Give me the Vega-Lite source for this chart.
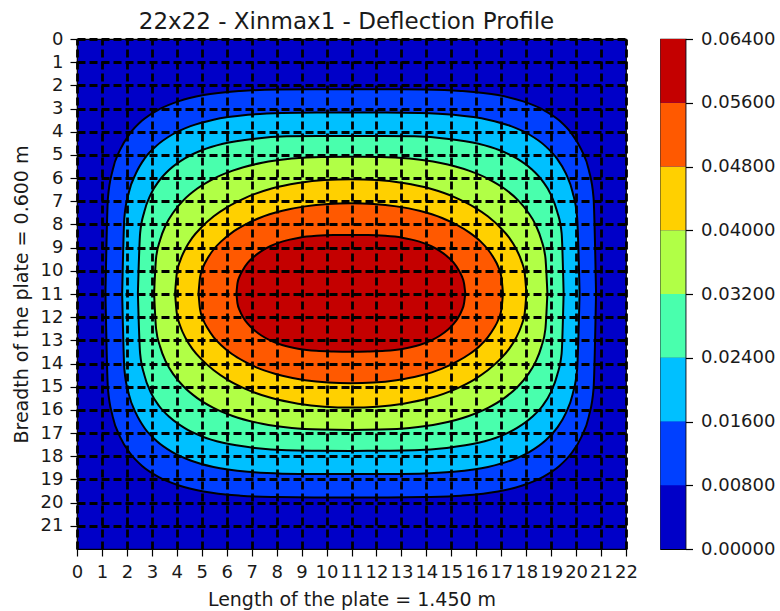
{
  "$schema": "https://vega.github.io/schema/vega-lite/v6.json",
  "padding": {"left": 11, "top": 10, "right": 2, "bottom": 0},
  "background": "white",
  "config": {
    "font": "DejaVu Sans",
    "view": {"stroke": "black", "strokeWidth": 1.2, "fill": "#0000c8"},
    "axis": {"labelFont": "DejaVu Sans", "titleFont": "DejaVu Sans", "labelFontSize": 18, "titleFontSize": 19, "titleFontWeight": "normal", "labelColor": "#1a1a1a", "titleColor": "#1a1a1a", "tickColor": "black", "tickSize": 7, "tickWidth": 1.2, "labelPadding": 7, "domain": false, "labelOverlap": false, "labelFlush": false, "labelBound": false},
    "concat": {"spacing": 20.5}
  },
  "datasets": {
    "bar": [
      {"lo": 0, "hi": 0.008}, {"lo": 0.008, "hi": 0.016}, {"lo": 0.016, "hi": 0.024}, {"lo": 0.024, "hi": 0.032},
      {"lo": 0.032, "hi": 0.040}, {"lo": 0.040, "hi": 0.048}, {"lo": 0.048, "hi": 0.056}, {"lo": 0.056, "hi": 0.064}
    ],
    "contours": [
      {"lo":0.008,"x":1.14,"y":10.97,"y2":10.97},{"lo":0.008,"x":1.24,"y":6.85,"y2":15.09},{"lo":0.008,"x":1.43,"y":5.65,"y2":16.29},{"lo":0.008,"x":1.73,"y":4.77,"y2":17.17},{"lo":0.008,"x":2.12,"y":4.08,"y2":17.86},{"lo":0.008,"x":2.61,"y":3.52,"y2":18.42},{"lo":0.008,"x":3.30,"y":3.03,"y2":18.91},{"lo":0.008,"x":4.09,"y":2.68,"y2":19.26},{"lo":0.008,"x":5.07,"y":2.42,"y2":19.52},{"lo":0.008,"x":6.55,"y":2.24,"y2":19.70},{"lo":0.008,"x":8.02,"y":2.18,"y2":19.76},{"lo":0.008,"x":9.50,"y":2.17,"y2":19.78},{"lo":0.008,"x":10.97,"y":2.17,"y2":19.78},{"lo":0.008,"x":12.45,"y":2.17,"y2":19.78},{"lo":0.008,"x":13.92,"y":2.18,"y2":19.76},{"lo":0.008,"x":15.39,"y":2.24,"y2":19.70},{"lo":0.008,"x":16.87,"y":2.42,"y2":19.52},{"lo":0.008,"x":17.85,"y":2.68,"y2":19.26},{"lo":0.008,"x":18.64,"y":3.03,"y2":18.91},{"lo":0.008,"x":19.33,"y":3.52,"y2":18.42},{"lo":0.008,"x":19.82,"y":4.08,"y2":17.86},{"lo":0.008,"x":20.21,"y":4.77,"y2":17.17},{"lo":0.008,"x":20.51,"y":5.65,"y2":16.29},{"lo":0.008,"x":20.70,"y":6.85,"y2":15.09},{"lo":0.008,"x":20.80,"y":10.97,"y2":10.97},
      {"lo":0.016,"x":1.81,"y":10.97,"y2":10.97},{"lo":0.016,"x":1.90,"y":7.68,"y2":14.26},{"lo":0.016,"x":2.08,"y":6.61,"y2":15.33},{"lo":0.016,"x":2.36,"y":5.80,"y2":16.14},{"lo":0.016,"x":2.72,"y":5.14,"y2":16.80},{"lo":0.016,"x":3.18,"y":4.61,"y2":17.33},{"lo":0.016,"x":3.82,"y":4.12,"y2":17.82},{"lo":0.016,"x":4.55,"y":3.76,"y2":18.18},{"lo":0.016,"x":5.47,"y":3.48,"y2":18.46},{"lo":0.016,"x":6.85,"y":3.27,"y2":18.67},{"lo":0.016,"x":8.22,"y":3.19,"y2":18.75},{"lo":0.016,"x":9.60,"y":3.17,"y2":18.77},{"lo":0.016,"x":10.97,"y":3.17,"y2":18.77},{"lo":0.016,"x":12.35,"y":3.17,"y2":18.77},{"lo":0.016,"x":13.72,"y":3.19,"y2":18.75},{"lo":0.016,"x":15.09,"y":3.27,"y2":18.67},{"lo":0.016,"x":16.47,"y":3.48,"y2":18.46},{"lo":0.016,"x":17.39,"y":3.76,"y2":18.18},{"lo":0.016,"x":18.12,"y":4.12,"y2":17.82},{"lo":0.016,"x":18.76,"y":4.61,"y2":17.33},{"lo":0.016,"x":19.22,"y":5.14,"y2":16.80},{"lo":0.016,"x":19.59,"y":5.80,"y2":16.14},{"lo":0.016,"x":19.86,"y":6.61,"y2":15.33},{"lo":0.016,"x":20.04,"y":7.68,"y2":14.26},{"lo":0.016,"x":20.14,"y":10.97,"y2":10.97},
      {"lo":0.024,"x":2.44,"y":10.97,"y2":10.97},{"lo":0.024,"x":2.53,"y":8.37,"y2":13.57},{"lo":0.024,"x":2.70,"y":7.44,"y2":14.50},{"lo":0.024,"x":2.95,"y":6.71,"y2":15.23},{"lo":0.024,"x":3.29,"y":6.12,"y2":15.83},{"lo":0.024,"x":3.72,"y":5.62,"y2":16.32},{"lo":0.024,"x":4.32,"y":5.15,"y2":16.79},{"lo":0.024,"x":5.00,"y":4.80,"y2":17.14},{"lo":0.024,"x":5.85,"y":4.52,"y2":17.42},{"lo":0.024,"x":7.13,"y":4.30,"y2":17.64},{"lo":0.024,"x":8.41,"y":4.20,"y2":17.74},{"lo":0.024,"x":9.69,"y":4.18,"y2":17.76},{"lo":0.024,"x":10.97,"y":4.18,"y2":17.77},{"lo":0.024,"x":12.25,"y":4.18,"y2":17.76},{"lo":0.024,"x":13.53,"y":4.20,"y2":17.74},{"lo":0.024,"x":14.81,"y":4.30,"y2":17.64},{"lo":0.024,"x":16.09,"y":4.52,"y2":17.42},{"lo":0.024,"x":16.94,"y":4.80,"y2":17.14},{"lo":0.024,"x":17.62,"y":5.15,"y2":16.79},{"lo":0.024,"x":18.22,"y":5.62,"y2":16.32},{"lo":0.024,"x":18.65,"y":6.12,"y2":15.83},{"lo":0.024,"x":18.99,"y":6.71,"y2":15.23},{"lo":0.024,"x":19.24,"y":7.44,"y2":14.50},{"lo":0.024,"x":19.42,"y":8.37,"y2":13.57},{"lo":0.024,"x":19.50,"y":10.97,"y2":10.97},
      {"lo":0.032,"x":3.09,"y":10.97,"y2":10.97},{"lo":0.032,"x":3.17,"y":9.43,"y2":12.51},{"lo":0.032,"x":3.33,"y":8.67,"y2":13.27},{"lo":0.032,"x":3.56,"y":8.02,"y2":13.92},{"lo":0.032,"x":3.88,"y":7.45,"y2":14.49},{"lo":0.032,"x":4.27,"y":6.95,"y2":14.99},{"lo":0.032,"x":4.82,"y":6.45,"y2":15.49},{"lo":0.032,"x":5.45,"y":6.04,"y2":15.90},{"lo":0.032,"x":6.24,"y":5.68,"y2":16.26},{"lo":0.032,"x":7.42,"y":5.34,"y2":16.60},{"lo":0.032,"x":8.61,"y":5.16,"y2":16.78},{"lo":0.032,"x":9.79,"y":5.09,"y2":16.85},{"lo":0.032,"x":10.97,"y":5.08,"y2":16.87},{"lo":0.032,"x":12.15,"y":5.09,"y2":16.85},{"lo":0.032,"x":13.33,"y":5.16,"y2":16.78},{"lo":0.032,"x":14.52,"y":5.34,"y2":16.60},{"lo":0.032,"x":15.70,"y":5.68,"y2":16.26},{"lo":0.032,"x":16.49,"y":6.04,"y2":15.90},{"lo":0.032,"x":17.12,"y":6.45,"y2":15.49},{"lo":0.032,"x":17.67,"y":6.95,"y2":14.99},{"lo":0.032,"x":18.06,"y":7.45,"y2":14.49},{"lo":0.032,"x":18.38,"y":8.02,"y2":13.92},{"lo":0.032,"x":18.61,"y":8.67,"y2":13.27},{"lo":0.032,"x":18.77,"y":9.43,"y2":12.51},{"lo":0.032,"x":18.85,"y":10.97,"y2":10.97},
      {"lo":0.040,"x":3.93,"y":10.97,"y2":10.97},{"lo":0.040,"x":4.00,"y":10.10,"y2":11.84},{"lo":0.040,"x":4.14,"y":9.55,"y2":12.39},{"lo":0.040,"x":4.35,"y":9.04,"y2":12.90},{"lo":0.040,"x":4.63,"y":8.56,"y2":13.38},{"lo":0.040,"x":4.99,"y":8.12,"y2":13.82},{"lo":0.040,"x":5.48,"y":7.65,"y2":14.29},{"lo":0.040,"x":6.04,"y":7.24,"y2":14.70},{"lo":0.040,"x":6.75,"y":6.85,"y2":15.09},{"lo":0.040,"x":7.80,"y":6.45,"y2":15.49},{"lo":0.040,"x":8.86,"y":6.21,"y2":15.73},{"lo":0.040,"x":9.91,"y":6.08,"y2":15.86},{"lo":0.040,"x":10.97,"y":6.05,"y2":15.90},{"lo":0.040,"x":12.03,"y":6.08,"y2":15.86},{"lo":0.040,"x":13.08,"y":6.21,"y2":15.73},{"lo":0.040,"x":14.14,"y":6.45,"y2":15.49},{"lo":0.040,"x":15.19,"y":6.85,"y2":15.09},{"lo":0.040,"x":15.90,"y":7.24,"y2":14.70},{"lo":0.040,"x":16.46,"y":7.65,"y2":14.29},{"lo":0.040,"x":16.95,"y":8.12,"y2":13.82},{"lo":0.040,"x":17.31,"y":8.56,"y2":13.38},{"lo":0.040,"x":17.59,"y":9.04,"y2":12.90},{"lo":0.040,"x":17.80,"y":9.55,"y2":12.39},{"lo":0.040,"x":17.94,"y":10.10,"y2":11.84},{"lo":0.040,"x":18.01,"y":10.97,"y2":10.97},
      {"lo":0.048,"x":4.87,"y":10.97,"y2":10.97},{"lo":0.048,"x":4.93,"y":10.29,"y2":11.65},{"lo":0.048,"x":5.05,"y":9.85,"y2":12.09},{"lo":0.048,"x":5.24,"y":9.45,"y2":12.49},{"lo":0.048,"x":5.48,"y":9.07,"y2":12.87},{"lo":0.048,"x":5.79,"y":8.72,"y2":13.22},{"lo":0.048,"x":6.21,"y":8.35,"y2":13.59},{"lo":0.048,"x":6.70,"y":8.03,"y2":13.91},{"lo":0.048,"x":7.31,"y":7.72,"y2":14.22},{"lo":0.048,"x":8.23,"y":7.41,"y2":14.53},{"lo":0.048,"x":9.14,"y":7.22,"y2":14.72},{"lo":0.048,"x":10.06,"y":7.12,"y2":14.82},{"lo":0.048,"x":10.97,"y":7.09,"y2":14.85},{"lo":0.048,"x":11.89,"y":7.12,"y2":14.82},{"lo":0.048,"x":12.80,"y":7.22,"y2":14.72},{"lo":0.048,"x":13.72,"y":7.41,"y2":14.53},{"lo":0.048,"x":14.63,"y":7.72,"y2":14.22},{"lo":0.048,"x":15.24,"y":8.03,"y2":13.91},{"lo":0.048,"x":15.73,"y":8.35,"y2":13.59},{"lo":0.048,"x":16.16,"y":8.72,"y2":13.22},{"lo":0.048,"x":16.46,"y":9.07,"y2":12.87},{"lo":0.048,"x":16.70,"y":9.45,"y2":12.49},{"lo":0.048,"x":16.89,"y":9.85,"y2":12.09},{"lo":0.048,"x":17.01,"y":10.29,"y2":11.65},{"lo":0.048,"x":17.07,"y":10.97,"y2":10.97},
      {"lo":0.056,"x":6.39,"y":10.97,"y2":10.97},{"lo":0.056,"x":6.43,"y":10.54,"y2":11.40},{"lo":0.056,"x":6.52,"y":10.23,"y2":11.71},{"lo":0.056,"x":6.66,"y":9.94,"y2":12.01},{"lo":0.056,"x":6.84,"y":9.66,"y2":12.28},{"lo":0.056,"x":7.07,"y":9.41,"y2":12.53},{"lo":0.056,"x":7.39,"y":9.15,"y2":12.79},{"lo":0.056,"x":7.76,"y":8.93,"y2":13.01},{"lo":0.056,"x":8.22,"y":8.74,"y2":13.20},{"lo":0.056,"x":8.91,"y":8.57,"y2":13.37},{"lo":0.056,"x":9.59,"y":8.49,"y2":13.45},{"lo":0.056,"x":10.28,"y":8.46,"y2":13.48},{"lo":0.056,"x":10.97,"y":8.46,"y2":13.49},{"lo":0.056,"x":11.66,"y":8.46,"y2":13.48},{"lo":0.056,"x":12.35,"y":8.49,"y2":13.45},{"lo":0.056,"x":13.03,"y":8.57,"y2":13.37},{"lo":0.056,"x":13.72,"y":8.74,"y2":13.20},{"lo":0.056,"x":14.18,"y":8.93,"y2":13.01},{"lo":0.056,"x":14.55,"y":9.15,"y2":12.79},{"lo":0.056,"x":14.87,"y":9.41,"y2":12.53},{"lo":0.056,"x":15.10,"y":9.66,"y2":12.28},{"lo":0.056,"x":15.28,"y":9.94,"y2":12.01},{"lo":0.056,"x":15.42,"y":10.23,"y2":11.71},{"lo":0.056,"x":15.51,"y":10.54,"y2":11.40},{"lo":0.056,"x":15.56,"y":10.97,"y2":10.97}
    ]
  },
  "hconcat": [
    {
      "width": 549,
      "height": 510,
      "title": {"text": "22x22 - Xinmax1 - Deflection Profile", "font": "DejaVu Sans", "fontSize": 23, "fontWeight": "normal", "color": "#1a1a1a", "frame": "group", "offset": -4, "dx": -5},
      "data": {"name": "contours"},
      "mark": {"type": "area", "orient": "vertical", "interpolate": "monotone", "stroke": "black", "strokeWidth": 2},
      "encoding": {
        "x": {"field": "x", "type": "quantitative", "scale": {"domain": [0, 22], "nice": false, "zero": false},
              "axis": {"values": [0,1,2,3,4,5,6,7,8,9,10,11,12,13,14,15,16,17,18,19,20,21,22], "format": "d", "title": "Length of the plate = 1.450 m", "titlePadding": 9, "grid": true, "gridColor": "black", "gridDash": [8, 4], "gridWidth": 2.8, "gridOpacity": 1, "zindex": 1}},
        "y": {"field": "y", "type": "quantitative", "stack": null, "scale": {"domain": [0, 22], "nice": false, "zero": false, "reverse": true},
              "axis": {"values": [0,1,2,3,4,5,6,7,8,9,10,11,12,13,14,15,16,17,18,19,20,21], "format": "d", "title": "Breadth of the plate = 0.600 m", "titlePadding": 9, "grid": true, "gridColor": "black", "gridDash": [8, 4], "gridWidth": 2.8, "gridOpacity": 1, "zindex": 1}},
        "y2": {"field": "y2"},
        "color": {"field": "lo", "type": "ordinal", "legend": null,
                  "scale": {"domain": [0, 0.008, 0.016, 0.024, 0.032, 0.04, 0.048, 0.056], "range": ["#0000c8", "#0040ff", "#00c0ff", "#49ffad", "#b1ff46", "#ffd000", "#ff5900", "#c40000"]}}
      }
    },
    {
      "width": 25,
      "height": 510,
      "data": {"name": "bar"},
      "mark": {"type": "rect"},
      "encoding": {
        "y": {"field": "lo", "type": "quantitative", "scale": {"domain": [0, 0.064], "nice": false, "zero": false},
              "axis": {"orient": "right", "values": [0, 0.008, 0.016, 0.024, 0.032, 0.04, 0.048, 0.056, 0.064], "format": ".5f", "title": null, "grid": false, "labelPadding": 8}},
        "y2": {"field": "hi"},
        "color": {"field": "lo", "type": "ordinal", "legend": null,
                  "scale": {"domain": [0, 0.008, 0.016, 0.024, 0.032, 0.04, 0.048, 0.056], "range": ["#0000c8", "#0040ff", "#00c0ff", "#49ffad", "#b1ff46", "#ffd000", "#ff5900", "#c40000"]}}
      }
    }
  ]
}
